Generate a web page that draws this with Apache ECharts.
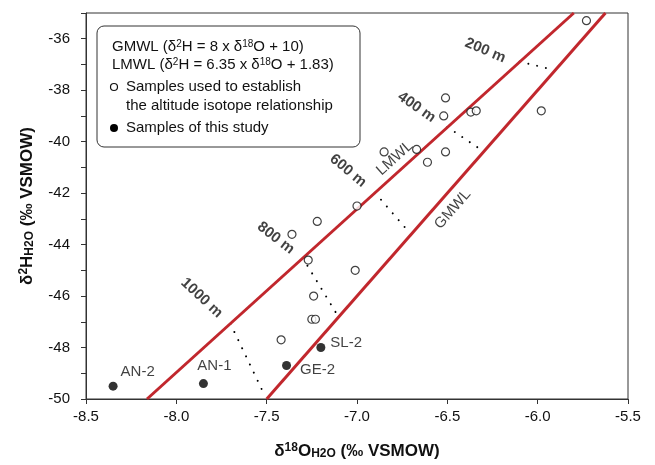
<!DOCTYPE html>
<html>
<head>
<meta charset="utf-8">
<script src="https://cdn.jsdelivr.net/npm/echarts@6/dist/echarts.min.js"></script>
<style>html,body{margin:0;padding:0;background:#fff}#main{width:655px;height:465px}</style>
</head>
<body>
<div id="main"></div>
<script>
// 用于建立高程-同位素关系的样品
let refO = [-5.73, -6.51, -6.52, -6.37, -6.34, -5.98, -6.85, -6.67, -6.61, -6.51,
    -7.00, -7.22, -7.36, -7.27, -7.01, -7.24, -7.25, -7.23, -7.42];
let refH = [-35.3, -38.3, -39.0, -38.85, -38.8, -38.8, -40.4, -40.3, -40.8, -40.4,
    -42.5, -43.1, -43.6, -44.6, -45.0, -46.0, -46.9, -46.9, -47.7];
// 本研究样品
let studyNames = ['AN-2', 'AN-1', 'GE-2', 'SL-2'];
let studyO = [-8.35, -7.85, -7.39, -7.20];
let studyH = [-49.5, -49.4, -48.7, -48.0];
// 大气降水线 (斜率, 截距)
let gmwl = [8, 10];
let lmwl = [6.35, 1.83];
// 高程线
let altNames = ['200 m', '400 m', '600 m', '800 m', '1000 m'];
let altStart = [[-6.10, -36.89], [-6.50, -39.43], [-6.90, -41.99], [-7.30, -44.52], [-7.70, -47.08]];
let altEnd = [[-5.94, -37.16], [-6.32, -40.28], [-6.73, -43.37], [-7.11, -46.72], [-7.52, -49.73]];
let altLabelAt = [[-6.29, -36.46], [-6.67, -38.66], [-7.05, -41.13], [-7.45, -43.75], [-7.86, -46.07]];
let altLabelRot = [-23, -35, -40, -38, -43];
let yMin = -50, yMax = -35;
let xMin = -8.5, xMax = -5.5;

let red = '#c1272d';
let ink = '#111';
let font = 'Liberation Sans, Arial, sans-serif';

function mwlData(k) {
    // 线在 y 轴范围内的两个端点
    return [[(yMin - k[1]) / k[0], yMin], [(yMax - k[1]) / k[0], yMax]];
}

let myChart = echarts.init(document.getElementById('main'));

let series = [
    {
        name: 'GMWL', type: 'line', data: mwlData(gmwl), symbol: 'none',
        lineStyle: {color: red, width: 3}, z: 3
    },
    {
        name: 'LMWL', type: 'line', data: mwlData(lmwl), symbol: 'none',
        lineStyle: {color: red, width: 3}, z: 3
    }
];
for (let i = 0; i < altNames.length; i++) {
    series.push({
        type: 'line', data: [altStart[i], altEnd[i]], symbol: 'none',
        lineStyle: {color: '#000', width: 2, type: [0.01, 9], cap: 'round'}, z: 2
    });
}
series.push({
    name: 'ref', type: 'scatter', symbol: 'circle', symbolSize: 8,
    itemStyle: {color: '#fff', borderColor: ink, borderWidth: 1.2},
    data: refO.map((o, i) => [o, refH[i]]), z: 4
});
let studyLabel = [
    {position: 'right', offset: [-2, -14]},
    {position: 'top', offset: [11, -1]},
    {position: 'right', offset: [4, 4]},
    {position: 'right', offset: [0, -5]}
];
series.push({
    name: 'study', type: 'scatter', symbol: 'circle', symbolSize: 9,
    itemStyle: {color: '#000'},
    label: {show: true, formatter: '{b}', color: ink, fontSize: 15, fontFamily: font},
    data: studyO.map((o, i) => ({
        name: studyNames[i], value: [o, studyH[i]], label: studyLabel[i]
    })), z: 5
});
// 高程标注和线名
let annot = altNames.map((n, i) => ({
    name: n, value: altLabelAt[i], label: {rotate: altLabelRot[i], fontWeight: 'bold', fontSize: 15}
}));
annot.push({name: 'LMWL', value: [-6.79, -40.64], label: {rotate: 42}});
annot.push({name: 'GMWL', value: [-6.47, -42.63], label: {rotate: 49}});
series.push({
    type: 'scatter', symbolSize: 0, silent: true,
    label: {show: true, position: 'inside', formatter: '{b}', color: ink, fontSize: 15, fontFamily: font},
    data: annot, z: 6
});

let nameRich = {
    b: {fontSize: 17, fontWeight: 'bold', color: ink, fontFamily: font},
    bsup: {fontSize: 12, fontWeight: 'bold', color: ink, fontFamily: font, verticalAlign: 'top'},
    bsub: {fontSize: 12, fontWeight: 'bold', color: ink, fontFamily: font, verticalAlign: 'bottom', padding: [6, 0, 0, 0]}
};

let option = {
    backgroundColor: '#fff',
    animation: false,
    textStyle: {fontFamily: font},
    grid: {left: 86, right: 27, top: 13, bottom: 63, show: true, borderColor: '#333', borderWidth: 1},
    xAxis: {
        type: 'value', min: xMin, max: xMax, interval: 0.5,
        name: '{b|δ}{bsup|18}{b|O}{bsub|H2O}{b| (‰ VSMOW)}',
        nameLocation: 'middle', nameGap: 43,
        nameTextStyle: {rich: nameRich},
        axisLine: {lineStyle: {color: '#333'}},
        axisTick: {length: 5, lineStyle: {color: '#333'}},
        axisLabel: {color: ink, fontSize: 15, margin: 10, formatter: v => v.toFixed(1)},
        splitLine: {show: false}
    },
    yAxis: {
        type: 'value', min: yMin, max: yMax, interval: 1,
        name: '{b|δ}{bsup|2}{b|H}{bsub|H2O}{b| (‰ VSMOW)}',
        nameLocation: 'middle', nameGap: 50,
        nameTextStyle: {rich: nameRich},
        axisLine: {show: true, lineStyle: {color: '#333'}},
        axisTick: {length: 5, lineStyle: {color: '#333'}},
        axisLabel: {color: ink, fontSize: 15, margin: 16, formatter: v => (v % 2 === 0 ? v : '')},
        splitLine: {show: false}
    },
    graphic: [
        {
            type: 'rect', shape: {x: 97, y: 26, width: 263, height: 121, r: 7},
            style: {fill: '#fff', stroke: '#333', lineWidth: 1}, z: 10
        },
        {
            type: 'text', x: 112, y: 47, z: 11,
            style: {
                text: 'GMWL (δ{s|2}H = 8 x δ{s|18}O + 10)', fill: ink, font: '15px ' + font,
                verticalAlign: 'middle', rich: {s: {fontSize: 10, verticalAlign: 'top', fill: ink}}
            }
        },
        {
            type: 'text', x: 112, y: 65, z: 11,
            style: {
                text: 'LMWL (δ{s|2}H = 6.35 x δ{s|18}O + 1.83)', fill: ink, font: '15px ' + font,
                verticalAlign: 'middle', rich: {s: {fontSize: 10, verticalAlign: 'top', fill: ink}}
            }
        },
        {
            type: 'circle', shape: {cx: 114, cy: 87, r: 3.5}, z: 11,
            style: {fill: '#fff', stroke: ink, lineWidth: 1.2}
        },
        {
            type: 'text', x: 126, y: 87, z: 11,
            style: {text: 'Samples used to establish', fill: ink, font: '15px ' + font, verticalAlign: 'middle'}
        },
        {
            type: 'text', x: 126, y: 106, z: 11,
            style: {text: 'the altitude isotope relationship', fill: ink, font: '15px ' + font, verticalAlign: 'middle'}
        },
        {
            type: 'circle', shape: {cx: 114, cy: 128, r: 4}, z: 11,
            style: {fill: '#000'}
        },
        {
            type: 'text', x: 126, y: 128, z: 11,
            style: {text: 'Samples of this study', fill: ink, font: '15px ' + font, verticalAlign: 'middle'}
        }
    ],
    series: series
};
myChart.setOption(option);
</script>
</body>
</html>
